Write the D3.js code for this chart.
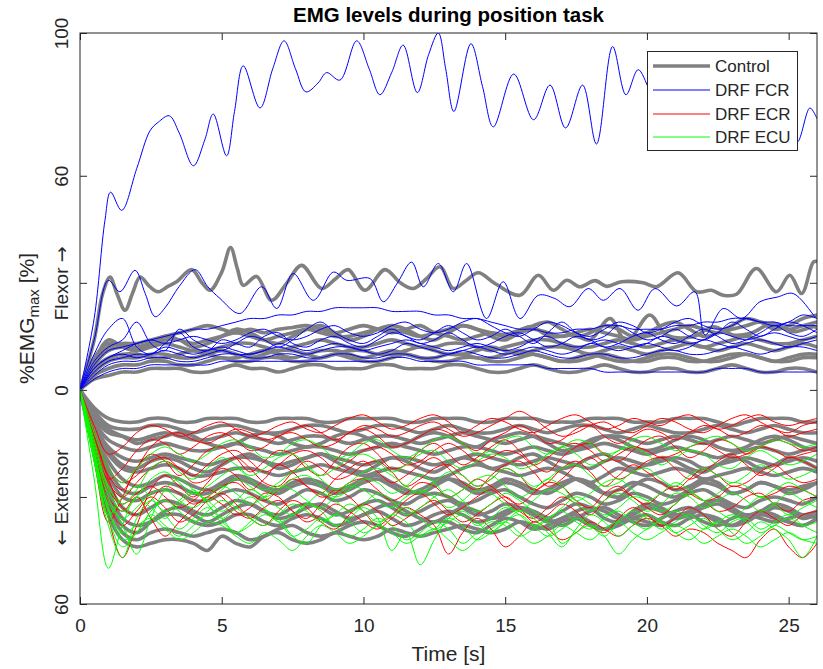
<!DOCTYPE html>
<html>
<head>
<meta charset="utf-8">
<script src="https://cdn.jsdelivr.net/npm/d3@7"></script>
<style>
  body { margin: 0; background: #fff; }
  svg { display: block; font-family: "Liberation Sans", Arial, Helvetica, sans-serif; }
</style>
</head>
<body>
<svg id="chart" width="823" height="669"></svg>
<script>
// ---------------- data ----------------
// Shared time base (s) for series sampled every 0.5 s
const timeGrid = [0,0.5,1,1.5,2,2.5,3,3.5,4,4.5,5,5.5,6,6.5,7,7.5,8,8.5,9,9.5,
  10,10.5,11,11.5,12,12.5,13,13.5,14,14.5,15,15.5,16,16.5,17,17.5,18,18.5,19,19.5,
  20,20.5,21,21.5,22,22.5,23,23.5,24,24.5,25,25.5,26];

const xTicks = [0, 5, 10, 15, 20, 25];
const yTicks = [-60, -30, 0, 30, 60, 100];
const yTickLabels = ["60", "\u2190 Extensor", "0", "Flexor \u2192", "60", "100"];

const legendLabels = ["Control", "DRF FCR", "DRF ECR", "DRF ECU"];
const legendColors = ["#808080", "#0000ff", "#ff0000", "#00ff00"];

// Control group, flexor (positive) traces given as [time, %EMGmax] pairs
const controlFlexorPairs = [
  [[0,0],[0.5,14],[0.8,27],[1.06,31.6],[1.3,27],[1.59,22.3],[1.85,27],[2.12,31.6],[2.45,29],[2.76,27.5],
   [3.1,29],[3.41,30.3],[3.94,33.7],[4.3,30],[4.59,27.9],[5.0,33],[5.31,39.9],[5.55,34],[5.76,29.3],[6.23,31.8],
   [6.76,25.1],[7.3,30],[7.82,34.9],[8.52,28.4],[9.0,31],[9.46,33.7],[10.05,27.9],[10.76,33.7],[11.3,30],[11.76,28.4],
   [12.2,31],[12.7,34.5],[13.17,28.4],[13.6,30.5],[14.05,32.8],[14.64,29.8],[15.52,26.5],[16.17,32.1],[16.7,27.9],[17.17,30.7],
   [17.64,28.9],[18.17,30.6],[18.58,29],[19.1,30.3],[19.87,30],[20.34,28.9],[21.1,32.8],[21.75,27.5],[22.28,27.9],[22.69,26.5],
   [23.16,26.8],[23.86,34],[24.57,27.5],[25.04,32.1],[25.46,27],[25.87,35.8],[26,36]],
  [[0,0],[0.5,8],[1,12],[1.5,13],[2,13],[2.5,14],[3,15],[3.5,16],[4,17],[4.5,18],
   [5,17],[5.5,16],[6,17],[6.5,16],[7,17],[7.5,17.5],[8,18],[8.5,17],[9,16],[9.5,17],
   [10,18],[10.5,17],[11,16],[11.5,17],[12,18],[12.5,16],[13,15],[13.5,14],[14,15],[14.5,16],
   [15,15.5],[15.52,16.8],[15.93,17.7],[16.58,14.9],[17.4,15.4],[17.99,14],[18.7,20],[19.28,13.5],[20.1,21],[20.69,15.4],
   [21.63,14.9],[22.34,17.7],[23.04,15.4],[23.63,15.8],[24.46,18.6],[25.16,16.3],[25.87,17.7],[26,17.5]]
];

// Control group, flexor traces sampled on timeGrid
const controlFlexorGrid = [
  [0,7,11,12,12,13,14,14,13,14, 15,16,15,14,15,16,17,16,15,15, 16,17,17,16,15,16,17,18,17,16,
   15,16,17,16,15,16,17,16,15,14, 15,16,17,18,17,16,17,18,19,18, 17,18,19],
  [0,9,13,12,11,12,13,12,11,11, 12,13,13,12,11,12,13,14,13,12, 12,13,14,13,12,12,13,13,12,11,
   12,13,14,14,13,12,12,13,14,13, 12,13,14,13,12,13,14,15,14,13, 13,14,15],
  [0,5,8,9,9,10,10,9,9,10, 11,10,9,10,11,11,10,9,10,11, 11,10,10,11,12,11,10,10,11,12,
   11,10,11,12,12,11,10,11,12,11, 10,11,12,13,12,11,12,13,12,11, 12,13,12],
  [0,4,6,7,7,8,8,7,7,8, 9,8,8,9,9,8,8,9,10,9, 8,8,9,10,9,8,8,9,9,8,
   8,9,10,9,8,8,9,10,9,8, 8,9,9,8,8,9,10,10,9,8, 8,9,9],
  [0,3,4,5,5,6,6,6,5,5, 6,7,6,6,5,6,7,7,6,6, 6,7,7,6,6,6,7,7,6,5,
   5,6,7,6,5,5,6,7,6,5, 5,6,6,5,5,6,7,6,5,5, 6,6,5],
  [0,8,14,12,11,13,15,14,12,13, 15,17,16,14,13,15,17,18,16,14, 15,17,18,17,15,14,16,18,17,15,
   14,16,18,19,17,15,16,18,17,15, 16,18,19,17,15,16,18,20,19,17, 18,20,21],
  [0,6,9,10,10,9,9,10,11,10, 9,9,10,11,10,9,10,11,11,10, 9,10,11,10,9,9,10,10,9,9,
   10,11,10,9,8,9,10,9,8,8, 9,10,10,9,8,8,9,10,9,8, 9,10,10]
];

// Control group, extensor (negative) traces sampled on timeGrid
const controlExtensorGrid = [
  [0,-5,-8,-9,-9,-8,-8,-9,-9,-8, -8,-8,-9,-9,-8,-8,-8,-9,-9,-8, -8,-8,-8,-9,-9,-8,-8,-8,-9,-9,
   -8,-8,-8,-9,-9,-9,-8,-8,-8,-9, -9,-9,-8,-8,-8,-9,-10,-9,-8,-8, -8,-9,-9],
  [0,-6,-10,-11,-11,-10,-10,-11,-12,-11, -10,-10,-11,-12,-12,-11,-10,-10,-11,-12, -11,-10,-10,-11,-12,-11,-10,-11,-12,-12,
   -11,-10,-11,-12,-11,-10,-10,-11,-12,-11, -10,-11,-12,-12,-11,-10,-11,-12,-11,-10, -11,-12,-12],
  [0,-8,-12,-13,-14,-13,-12,-13,-14,-14, -13,-12,-13,-14,-15,-14,-13,-13,-14,-15, -14,-13,-13,-14,-15,-14,-13,-12,-13,-14,
   -15,-14,-13,-14,-15,-16,-15,-13,-13,-14, -15,-14,-13,-14,-15,-14,-13,-14,-15,-14, -13,-14,-15],
  [0,-9,-14,-16,-17,-16,-15,-16,-17,-17, -16,-15,-16,-17,-18,-17,-16,-16,-17,-18, -17,-16,-15,-16,-17,-18,-17,-16,-16,-17,
   -18,-17,-16,-17,-18,-17,-16,-15,-16,-17, -18,-17,-16,-17,-18,-19,-18,-17,-16,-17, -18,-17,-16],
  [0,-10,-16,-19,-20,-19,-18,-19,-20,-21, -20,-19,-19,-20,-21,-20,-19,-18,-19,-20, -21,-20,-19,-19,-20,-21,-20,-19,-18,-19,
   -20,-21,-20,-19,-20,-21,-22,-20,-19,-20, -21,-20,-19,-20,-22,-21,-20,-19,-20,-21, -20,-19,-20],
  [0,-11,-18,-22,-23,-22,-21,-22,-24,-24, -23,-22,-22,-23,-24,-23,-22,-21,-22,-23, -24,-23,-22,-23,-24,-25,-24,-22,-21,-22,
   -23,-24,-23,-22,-23,-25,-26,-24,-22,-23, -24,-23,-22,-23,-25,-24,-23,-22,-23,-24, -23,-22,-23],
  [0,-12,-20,-25,-27,-26,-24,-25,-27,-28, -26,-24,-25,-27,-28,-26,-25,-26,-28,-27, -25,-24,-26,-28,-29,-27,-25,-26,-28,-27,
   -25,-26,-28,-29,-27,-25,-26,-29,-30,-27, -25,-26,-28,-27,-25,-26,-29,-28,-26,-27, -29,-28,-26],
  [0,-13,-24,-30,-31,-29,-28,-29,-31,-31, -29,-28,-29,-31,-32,-30,-28,-29,-31,-30, -28,-29,-31,-32,-30,-29,-30,-32,-31,-29,
   -28,-30,-32,-33,-31,-29,-30,-32,-31,-29, -30,-32,-31,-29,-28,-30,-32,-33,-31,-30, -31,-32,-30],
  [0,-14,-26,-33,-35,-33,-31,-32,-34,-35, -33,-31,-32,-34,-35,-33,-32,-33,-35,-34, -32,-31,-33,-35,-34,-32,-31,-33,-35,-34,
   -32,-33,-35,-36,-34,-32,-33,-36,-37,-34, -32,-33,-35,-34,-32,-31,-33,-35,-34,-32, -33,-35,-34],
  [0,-15,-28,-36,-38,-37,-35,-35,-37,-38, -37,-35,-35,-37,-38,-36,-35,-36,-38,-37, -35,-34,-36,-38,-37,-35,-34,-35,-37,-36,
   -34,-33,-35,-37,-36,-34,-33,-34,-36,-35, -33,-34,-36,-35,-33,-32,-34,-36,-35,-33, -34,-36,-35],
  [0,-17,-32,-40,-42,-40,-39,-40,-41,-40, -39,-40,-42,-41,-39,-38,-40,-41,-40,-38, -37,-38,-40,-41,-39,-37,-37,-39,-40,-38,
   -36,-37,-39,-38,-36,-35,-37,-39,-38,-36, -35,-37,-38,-36,-35,-36,-38,-37,-35,-36, -37,-38,-36],
  [0,-18,-35,-42,-44,-43,-42,-42,-43,-45, -41,-43,-44,-41,-40,-42,-43,-42,-40,-41, -42,-41,-39,-40,-41,-40,-39,-38,-39,-40,
   -39,-37,-38,-39,-37,-36,-38,-39,-37,-36, -37,-38,-36,-35,-37,-38,-36,-35,-36,-37, -36,-35,-36],
  [0,-7,-11,-13,-15,-14,-13,-12,-13,-15, -16,-15,-13,-12,-13,-15,-16,-15,-13,-12, -13,-15,-16,-15,-13,-12,-13,-15,-16,-14,
   -13,-12,-13,-15,-17,-16,-14,-13,-14,-16, -17,-16,-14,-13,-14,-16,-17,-16,-14,-13, -14,-16,-17],
  [0,-9,-17,-21,-22,-20,-19,-20,-22,-23, -21,-19,-18,-20,-22,-21,-19,-18,-20,-22, -23,-21,-19,-20,-22,-23,-21,-19,-20,-22,
   -21,-19,-18,-20,-22,-21,-19,-18,-20,-22, -21,-19,-20,-22,-23,-21,-19,-20,-22,-21, -19,-20,-22],
  [0,-12,-22,-28,-29,-27,-26,-27,-29,-29, -27,-25,-26,-28,-29,-27,-26,-27,-29,-28, -26,-25,-27,-29,-28,-26,-25,-27,-29,-28,
   -26,-27,-29,-28,-26,-25,-27,-29,-28,-26, -27,-29,-30,-28,-26,-27,-29,-28,-26,-27, -28,-27,-26],
  [0,-15,-30,-38,-40,-37,-34,-33,-35,-37, -35,-33,-32,-34,-36,-35,-33,-32,-34,-36, -35,-33,-32,-34,-36,-37,-35,-33,-34,-36,
   -35,-33,-34,-36,-38,-36,-34,-33,-35,-37, -38,-36,-34,-33,-35,-37,-38,-36,-34,-35, -37,-38,-36]
];

// DRF FCR traces given as [time, %EMGmax] pairs
const fcrPairs = [
  [[0,0],[0.5,20],[0.88,47.5],[1.08,55.4],[1.47,50.3],[2.0,62],[2.47,72.6],[2.76,75],[3.15,76.8],[3.5,72],
   [4.0,62.8],[4.4,70],[4.7,77.3],[5.17,65.6],[5.45,78],[5.76,90.8],[6.35,79],[6.8,90],[7.2,97.8],[7.6,90],
   [7.97,83.5],[8.4,86],[8.7,88.9],[9.17,86.8],[9.76,97.8],[10.2,90],[10.58,82.7],[11.0,89],[11.4,96.6],[11.9,83.3],
   [12.3,94],[12.64,100],[12.9,90],[13.19,78],[13.79,97],[14.2,85],[14.58,73.7],[15.3,88.5],[16.0,75.7],[16.58,85.4],
   [17.13,73.4],[17.73,85.4],[18.22,68.9],[18.79,96.2],[19.26,82.7],[19.69,89.7],[20.1,84],[20.6,78],[21.1,88],[21.6,80],
   [22.1,90],[22.6,77],[23.1,86],[23.6,80],[24.1,91],[24.6,78],[25.0,73],[25.3,69.4],[25.75,79],[26,76]],
  [[0,0],[0.5,14],[1.0,30.7],[1.41,27.5],[1.94,33.5],[2.3,27],[2.65,20.5],[3.0,23],[3.5,29],[4.06,33.7],
   [4.5,29],[4.94,25.6],[5.64,21.4],[6.41,28.9],[6.94,22.8],[7.52,32.6],[8.23,25.1],[8.94,33],[9.41,30.7],[10.23,31.2],
   [10.7,24.7],[11.2,30],[11.7,35.8],[12.11,28.9],[12.64,35.4],[13.17,27.5],[13.64,35.4],[14.34,20],[14.93,30.3],[15.52,20],
   [16.17,26.5],[16.75,25.6],[17.28,23.3],[17.93,28.4],[18.46,25.1],[19.05,28.4],[19.69,22.3],[20.28,28.4],[21.05,23.5],[21.69,27.5],
   [22.05,15.4],[22.69,22.8],[23.34,20],[23.99,24.7],[24.6,26],[25.16,27],[25.93,20.5],[26,20]]
];

// DRF FCR traces sampled on timeGrid
const fcrGrid = [
  [0,6,9,11,13,14,15,16,17,17, 18,19,20,20,21,21,22,22,23,23, 23,23,22,22,22,21,21,20,20,19,
   18,17,17,16,16,17,17,18,18,17, 17,17,18,18,19,19,20,20,19,19, 18,18,18],
  [0,10,17,20,12,10,13,16,12,11, 14,13,12,15,16,13,12,14,15,13, 12,14,16,15,13,14,16,14,12,13,
   15,16,14,12,13,15,14,12,13,15, 16,14,13,15,17,15,13,14,16,18, 16,15,17],
  [0,6,9,10,9,10,12,11,10,11, 12,11,10,11,13,12,11,12,13,12, 11,12,13,14,13,12,11,12,13,12,
   11,12,14,15,13,12,13,14,13,12, 13,15,14,13,14,16,15,14,15,16, 15,14,15],
  [0,3,5,6,6,7,7,7,7,7, 8,8,8,8,8,8,8,8,8,8, 8,8,9,9,8,8,8,8,7,7,
   7,7,7,6,6,6,6,5,5,5, 5,5,5,5,5,6,6,6,5,5, 5,5,5],
  [0,8,12,14,19,13,11,17,14,12, 11,13,15,14,12,14,17,19,16,14, 13,15,17,15,14,16,18,16,14,15,
   17,15,13,16,19,16,14,15,18,16, 14,15,17,15,14,16,19,17,15,17, 19,18,16],
  [0,5,8,9,10,10,11,10,9,10, 11,10,10,11,12,11,10,11,12,12, 11,10,11,13,12,11,10,11,12,11,
   10,11,12,11,10,11,13,12,11,12, 13,12,11,12,14,13,12,13,14,13, 12,13,14],
  [0,7,11,12,13,14,13,14,15,14, 13,14,16,17,15,14,15,17,18,16, 15,16,18,19,17,16,17,19,20,18,
   16,15,17,19,18,16,15,17,19,18, 16,17,19,20,18,17,18,20,19,18, 19,21,20],
  [0,4,7,8,8,9,9,8,8,9, 10,10,9,9,10,10,9,9,10,10, 9,9,10,10,9,9,10,11,10,9,
   9,10,11,10,9,9,10,10,9,9, 10,11,11,10,10,11,12,11,10,11, 12,12,11]
];

// DRF ECR traces sampled on timeGrid
const ecrGrid = [
  [0,-10,-18,-16,-12,-10,-11,-13,-12,-10, -9,-11,-13,-12,-10,-9,-11,-12,-10,-8, -7,-9,-11,-10,-8,-7,-9,-12,-10,-8,
   -9,-11,-12,-10,-8,-7,-9,-11,-10,-8, -9,-10,-8,-7,-9,-11,-10,-8,-7,-9, -10,-9,-8],
  [0,-15,-25,-22,-17,-14,-15,-18,-16,-13, -12,-14,-17,-16,-13,-12,-14,-16,-15,-12, -11,-13,-16,-15,-13,-11,-12,-15,-17,-14,
   -12,-10,-12,-15,-14,-11,-10,-13,-15,-13, -11,-12,-14,-12,-10,-11,-13,-12,-10,-11, -13,-12,-11],
  [0,-20,-37,-30,-22,-18,-20,-24,-21,-17, -16,-19,-23,-20,-17,-18,-22,-24,-20,-16, -15,-18,-22,-21,-17,-15,-18,-21,-19,-16,
   -14,-17,-21,-23,-19,-16,-15,-18,-20,-17, -14,-13,-16,-19,-17,-14,-15,-18,-16,-14, -15,-17,-16],
  [0,-18,-36,-47,-38,-28,-24,-27,-30,-26, -22,-24,-28,-25,-21,-23,-27,-29,-25,-22, -20,-23,-26,-24,-21,-19,-22,-26,-28,-24,
   -21,-20,-23,-27,-25,-21,-19,-22,-25,-23, -20,-19,-22,-25,-23,-20,-18,-21,-24,-22, -19,-20,-22],
  [0,-15,-30,-34,-30,-36,-41,-37,-33,-30, -32,-35,-33,-29,-30,-34,-36,-32,-28,-30, -34,-38,-35,-31,-29,-32,-35,-33,-30,-28,
   -31,-34,-36,-33,-30,-32,-35,-31,-28,-30, -33,-35,-32,-29,-31,-34,-33,-30,-29,-32, -34,-31,-30],
  [0,-14,-28,-32,-29,-27,-30,-33,-31,-28, -30,-34,-36,-33,-31,-34,-37,-35,-32,-34, -37,-39,-36,-33,-35,-38,-46,-40,-36,-39,
   -44,-41,-37,-39,-42,-40,-37,-39,-41,-38, -36,-38,-41,-39,-40,-43,-45,-47,-42,-39, -44,-47,-43],
  [0,-12,-22,-26,-24,-20,-19,-22,-26,-25, -21,-19,-22,-26,-27,-23,-20,-22,-25,-24, -21,-20,-23,-27,-25,-22,-21,-24,-27,-25,
   -22,-24,-28,-26,-22,-20,-23,-27,-24,-21, -23,-26,-28,-25,-22,-24,-27,-26,-23,-21, -24,-26,-25],
  [0,-12,-24,-28,-22,-16,-13,-12,-14,-15, -13,-11,-12,-14,-13,-11,-10,-12,-14,-12, -10,-11,-13,-12,-10,-9,-11,-13,-12,-10,
   -8,-6,-8,-11,-13,-12,-10,-9,-11,-12, -10,-8,-9,-11,-12,-10,-8,-7,-9,-11, -12,-10,-9],
  [0,-16,-32,-38,-34,-30,-33,-37,-35,-31, -29,-32,-36,-38,-34,-31,-33,-37,-39,-35, -32,-34,-38,-36,-33,-31,-34,-37,-35,-32,
   -30,-33,-37,-35,-32,-34,-38,-40,-36,-33, -35,-38,-36,-33,-35,-39,-41,-37,-34,-36, -38,-35,-34],
  [0,-14,-26,-30,-26,-22,-20,-22,-24,-21, -18,-17,-20,-23,-21,-18,-17,-19,-22,-20, -17,-16,-18,-21,-20,-17,-15,-17,-20,-19,
   -17,-18,-21,-19,-16,-15,-17,-20,-18,-16, -17,-19,-18,-16,-15,-17,-19,-18,-16,-17, -19,-18,-17],
  [0,-13,-25,-33,-35,-31,-27,-29,-32,-30, -27,-26,-29,-31,-28,-25,-27,-30,-29,-26, -25,-28,-31,-29,-26,-27,-30,-28,-25,-27,
   -30,-32,-29,-26,-27,-31,-33,-29,-27,-30, -32,-29,-27,-29,-31,-30,-27,-28,-30,-29, -27,-28,-30]
];

// DRF ECU traces sampled on timeGrid
const ecuGrid = [
  [0,-25,-50,-38,-30,-33,-36,-32,-29,-31, -34,-31,-28,-30,-33,-35,-32,-29,-31,-34, -32,-29,-31,-35,-33,-30,-28,-31,-34,-32,
   -29,-31,-34,-36,-33,-30,-32,-35,-33,-30, -31,-34,-32,-29,-31,-34,-36,-33,-30,-32, -35,-33,-31],
  [0,-20,-38,-47,-36,-31,-35,-39,-36,-33, -36,-40,-37,-34,-36,-41,-43,-38,-35,-37, -40,-38,-35,-37,-41,-39,-36,-38,-42,-40,
   -37,-35,-38,-41,-39,-36,-38,-41,-37,-34, -36,-39,-37,-35,-38,-40,-37,-36,-39,-37, -35,-38,-40],
  [0,-16,-30,-38,-46,-36,-28,-25,-28,-31, -28,-25,-27,-30,-28,-25,-24,-27,-30,-28, -25,-26,-29,-27,-24,-26,-30,-28,-25,-24,
   -27,-30,-28,-25,-27,-31,-29,-26,-25,-28, -31,-29,-26,-28,-31,-29,-26,-27,-30,-28, -26,-28,-30],
  [0,-18,-34,-40,-38,-36,-39,-42,-40,-37, -38,-41,-43,-40,-42,-45,-41,-38,-40,-43, -41,-38,-40,-43,-41,-39,-42,-45,-42,-39,
   -37,-40,-43,-41,-38,-40,-42,-39,-37,-40, -42,-40,-38,-40,-43,-41,-39,-41,-44,-42, -40,-42,-43],
  [0,-14,-27,-32,-28,-22,-20,-23,-25,-22, -19,-21,-24,-22,-19,-18,-21,-24,-22,-19, -18,-20,-23,-21,-18,-17,-20,-22,-20,-18,
   -19,-22,-21,-18,-16,-18,-21,-20,-17,-16, -18,-21,-19,-17,-18,-21,-22,-19,-17,-19, -21,-20,-18],
  [0,-17,-33,-42,-40,-34,-31,-34,-37,-34, -31,-33,-36,-38,-35,-32,-34,-37,-35,-32, -34,-37,-35,-33,-36,-39,-37,-35,-38,-36,
   -33,-35,-38,-36,-34,-37,-39,-36,-34,-37, -39,-36,-34,-36,-39,-37,-35,-37,-40,-38, -36,-38,-37],
  [0,-20,-35,-30,-27,-30,-34,-31,-28,-32, -36,-33,-30,-33,-37,-35,-32,-34,-38,-36, -33,-36,-45,-40,-49,-42,-36,-34,-37,-40,
   -37,-34,-36,-40,-44,-39,-35,-37,-41,-38, -35,-37,-40,-38,-36,-39,-42,-40,-37,-39, -42,-47,-41],
  [0,-15,-28,-34,-30,-25,-23,-26,-29,-27, -24,-22,-25,-28,-26,-23,-22,-25,-28,-26, -23,-22,-24,-27,-29,-26,-23,-24,-27,-25,
   -22,-24,-27,-25,-22,-21,-24,-27,-26,-23, -22,-25,-27,-24,-22,-24,-26,-24,-21,-23, -25,-24,-22],
  [0,-12,-22,-26,-22,-18,-16,-18,-20,-18, -15,-14,-16,-19,-18,-15,-14,-16,-19,-18, -15,-14,-17,-19,-17,-14,-13,-15,-18,-17,
   -14,-13,-16,-18,-16,-14,-15,-18,-17,-14, -13,-15,-17,-16,-14,-13,-15,-17,-16,-14, -15,-16,-15],
  [0,-19,-36,-44,-40,-35,-38,-41,-38,-35, -37,-40,-38,-35,-37,-41,-39,-36,-38,-41, -39,-36,-38,-42,-40,-37,-39,-43,-40,-37,
   -38,-41,-39,-37,-43,-40,-38,-41,-46,-42, -39,-37,-40,-42,-39,-37,-40,-43,-41,-38, -40,-42,-41],
  [0,-18,-32,-36,-33,-29,-28,-31,-33,-30, -27,-29,-32,-30,-27,-28,-31,-33,-30,-27, -28,-31,-33,-30,-28,-30,-33,-31,-28,-29,
   -32,-34,-31,-28,-29,-32,-34,-31,-29,-31, -34,-32,-29,-30,-33,-31,-29,-31,-34,-32, -29,-31,-33]
];

// ---------------- chart ----------------
const svg = d3.select("#chart");
const plotL = 80, plotR = 817, plotT = 33, plotB = 604;
const axisColor = "#262626";

const x = d3.scaleLinear().domain([0, 26]).range([plotL, plotR]);
const y = d3.scaleLinear().domain([-60, 100]).range([plotB, plotT]);

const gridToPoints = vals => vals.map((v, i) => [timeGrid[i], v]);

const line = d3.line()
  .x(d => x(d[0]))
  .y(d => y(d[1]))
  .curve(d3.curveCatmullRom.alpha(0.5));

svg.append("rect").attr("x", 0).attr("y", 0).attr("width", 823).attr("height", 669).attr("fill", "#fff");

svg.append("clipPath").attr("id", "plot-clip")
  .append("rect").attr("x", plotL).attr("y", plotT).attr("width", plotR - plotL).attr("height", plotB - plotT);

const plot = svg.append("g").attr("clip-path", "url(#plot-clip)");

function drawSet(series, color, width) {
  plot.append("g")
    .selectAll("path")
    .data(series)
    .join("path")
    .attr("d", line)
    .attr("fill", "none")
    .attr("stroke", color)
    .attr("stroke-width", width)
    .attr("stroke-linejoin", "round")
    .attr("stroke-linecap", "round");
}

const controlSeries = controlFlexorPairs
  .concat(controlFlexorGrid.map(gridToPoints))
  .concat(controlExtensorGrid.map(gridToPoints));
drawSet(controlSeries, legendColors[0], 3.6);
drawSet(fcrPairs.concat(fcrGrid.map(gridToPoints)), legendColors[1], 1);
drawSet(ecrGrid.map(gridToPoints), legendColors[2], 1);
drawSet(ecuGrid.map(gridToPoints), legendColors[3], 1);

// Axes (box with inward ticks on all four sides)
const tickLen = 7;
const fontTick = 19;
const fontLabel = 21;

const xAxisB = svg.append("g").attr("transform", `translate(0,${plotB})`)
  .call(d3.axisBottom(x).tickValues(xTicks).tickSizeInner(-tickLen).tickSizeOuter(0).tickFormat(d3.format("d")));
const xAxisT = svg.append("g").attr("transform", `translate(0,${plotT})`)
  .call(d3.axisTop(x).tickValues(xTicks).tickSizeInner(-tickLen).tickSizeOuter(0).tickFormat(""));
const yAxisL = svg.append("g").attr("transform", `translate(${plotL},0)`)
  .call(d3.axisLeft(y).tickValues(yTicks).tickSizeInner(-tickLen).tickSizeOuter(0)
    .tickFormat((d, i) => yTickLabels[i]));
const yAxisR = svg.append("g").attr("transform", `translate(${plotR},0)`)
  .call(d3.axisRight(y).tickValues(yTicks).tickSizeInner(-tickLen).tickSizeOuter(0).tickFormat(""));

[xAxisB, xAxisT, yAxisL, yAxisR].forEach(g => {
  g.select(".domain").remove();
  g.selectAll(".tick line").attr("stroke", axisColor).attr("stroke-width", 1);
  g.selectAll("text").attr("fill", axisColor).attr("font-family", null).attr("font-size", fontTick);
});

xAxisB.selectAll("text").attr("y", 28).attr("dy", 0);

// Rotated y tick labels; arrows set in a font with a full-size arrow glyph
yAxisL.selectAll("text")
  .attr("x", 0).attr("y", 0).attr("dy", 0)
  .attr("text-anchor", "middle")
  .attr("transform", "translate(-12,0) rotate(-90)")
  .each(function() {
    const t = d3.select(this);
    const parts = t.text().split(/([\u2190\u2192])/).filter(s => s.length);
    t.text(null);
    parts.forEach(p => {
      const sp = t.append("tspan").text(p);
      if (p === "\u2190" || p === "\u2192") sp.attr("font-family", "'DejaVu Sans', sans-serif");
    });
  });

svg.append("rect")
  .attr("x", plotL).attr("y", plotT).attr("width", plotR - plotL).attr("height", plotB - plotT)
  .attr("fill", "none").attr("stroke", axisColor).attr("stroke-width", 1);

// Title and axis labels
svg.append("text")
  .attr("x", (plotL + plotR) / 2).attr("y", 22)
  .attr("text-anchor", "middle").attr("font-weight", "bold").attr("font-size", 20.5)
  .attr("fill", "#000")
  .text("EMG levels during position task");

svg.append("text")
  .attr("x", (plotL + plotR) / 2).attr("y", 661)
  .attr("text-anchor", "middle").attr("font-size", fontLabel).attr("fill", axisColor)
  .text("Time [s]");

const yLab = svg.append("text")
  .attr("text-anchor", "middle").attr("font-size", fontLabel).attr("fill", axisColor)
  .attr("transform", `translate(34,${(plotT + plotB) / 2}) rotate(-90)`);
yLab.append("tspan").text("%EMG");
yLab.append("tspan").attr("font-size", 15).attr("dy", 5).text("max");
yLab.append("tspan").attr("dy", -5).text(" [%]");

// Legend
const lg = svg.append("g");
lg.append("rect").attr("x", 647.5).attr("y", 51.5).attr("width", 150).attr("height", 99)
  .attr("fill", "#fff").attr("stroke", axisColor).attr("stroke-width", 1);
const rowY = [66, 90, 114, 137];
legendLabels.forEach((lab, i) => {
  lg.append("line")
    .attr("x1", 653).attr("x2", 710).attr("y1", rowY[i]).attr("y2", rowY[i])
    .attr("stroke", legendColors[i]).attr("stroke-width", i === 0 ? 3.6 : 1);
  lg.append("text")
    .attr("x", 715).attr("y", rowY[i] + 6)
    .attr("font-size", 17).attr("fill", axisColor)
    .text(lab);
});
</script>
</body>
</html>
